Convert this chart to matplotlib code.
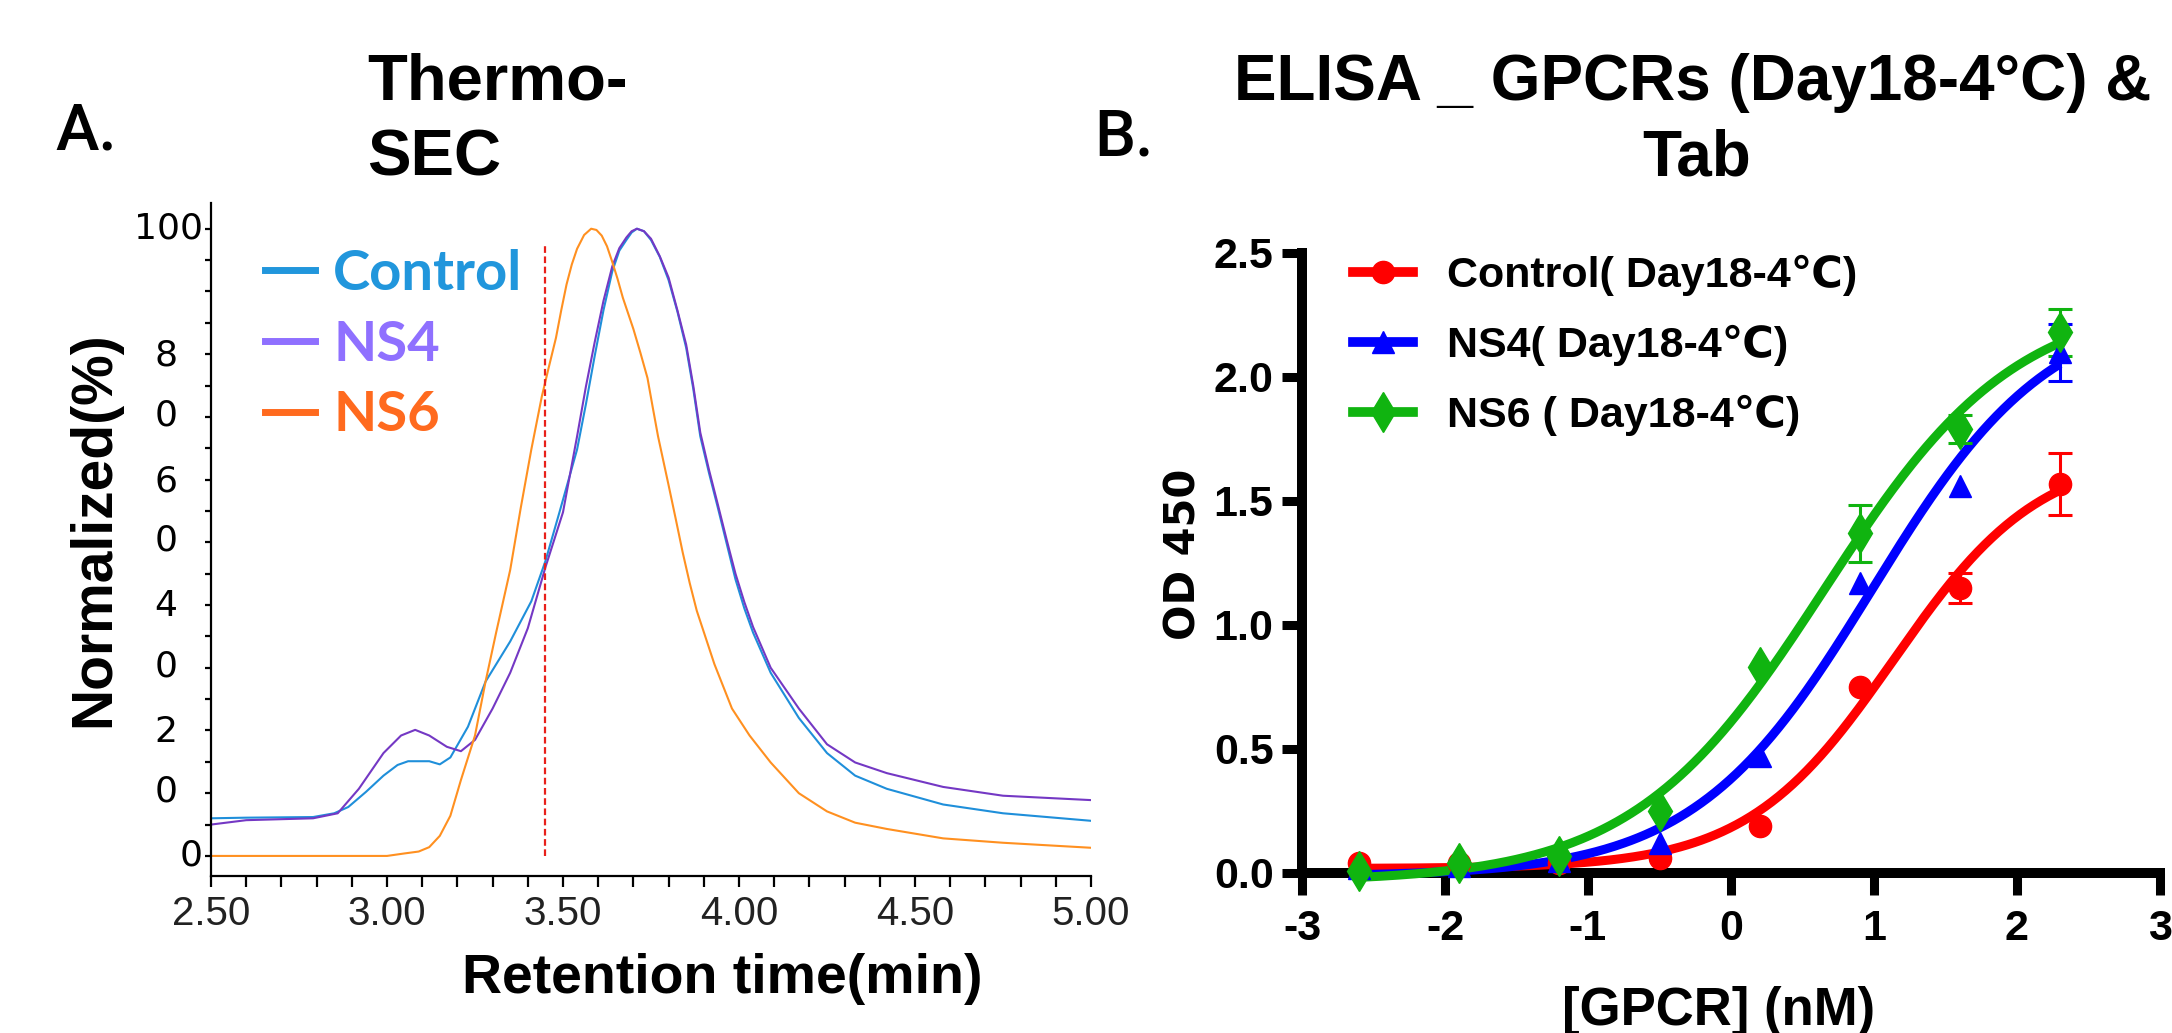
import numpy as np
import matplotlib
matplotlib.use("Agg")
import matplotlib.pyplot as plt
from matplotlib.transforms import blended_transform_factory

# ---------------- data : Thermo-SEC ----------------
control_t = [2.50, 2.60, 2.79, 2.85, 2.89, 2.94, 2.99, 3.03, 3.06, 3.12, 3.15, 3.18, 3.23, 3.28,
             3.35, 3.41, 3.45, 3.49, 3.54, 3.565, 3.59, 3.615, 3.64, 3.66, 3.68, 3.695, 3.71,
             3.73, 3.75, 3.775, 3.80, 3.825, 3.85, 3.87, 3.89, 3.915, 3.94, 3.965, 3.99, 4.015,
             4.04, 4.09, 4.17, 4.25, 4.33, 4.42, 4.58, 4.75, 5.00]
control_y = [6.0, 6.1, 6.2, 6.8, 7.8, 10.2, 12.8, 14.5, 15.1, 15.1, 14.6, 15.7, 20.6, 27.8,
             34.2, 40.6, 47.0, 54.8, 64.8, 72.0, 79.7, 87.0, 93.2, 96.5, 98.2, 99.4, 100.0,
             99.6, 98.2, 95.5, 91.8, 86.8, 81.0, 74.5, 66.9, 61.0, 55.5, 49.8, 44.1, 39.5,
             35.6, 29.2, 22.0, 16.4, 12.8, 10.7, 8.2, 6.8, 5.6]
ns4_t = [2.50, 2.60, 2.79, 2.86, 2.92, 2.99, 3.04, 3.08, 3.12, 3.17, 3.21, 3.25, 3.30, 3.35,
         3.40, 3.45, 3.50, 3.54, 3.565, 3.59, 3.615, 3.64, 3.66, 3.68, 3.695, 3.71, 3.73, 3.75,
         3.775, 3.80, 3.825, 3.85, 3.87, 3.89, 3.915, 3.94, 3.965, 3.99, 4.015, 4.04, 4.09,
         4.17, 4.25, 4.33, 4.42, 4.58, 4.75, 5.00]
ns4_y = [5.0, 5.7, 6.0, 6.8, 10.7, 16.4, 19.2, 20.1, 19.2, 17.4, 16.7, 18.5, 23.5, 29.2,
         36.3, 46.0, 54.8, 66.9, 74.8, 81.9, 88.5, 94.0, 96.9, 98.6, 99.6, 100.0, 99.6, 98.4,
         95.6, 92.2, 87.0, 81.5, 75.0, 67.5, 61.5, 56.0, 50.4, 45.0, 40.5, 36.5, 30.0,
         23.5, 17.8, 14.9, 13.2, 11.0, 9.6, 8.9]
ns6_t = [2.50, 3.00, 3.05, 3.09, 3.12, 3.15, 3.18, 3.21, 3.25, 3.28, 3.31, 3.35, 3.38, 3.41,
         3.44, 3.46, 3.48, 3.495, 3.51, 3.525, 3.54, 3.56, 3.58, 3.595, 3.61, 3.625, 3.64,
         3.655, 3.67, 3.70, 3.72, 3.74, 3.755, 3.77, 3.785, 3.80, 3.82, 3.84, 3.86, 3.88,
         3.93, 3.98, 4.03, 4.09, 4.17, 4.25, 4.33, 4.42, 4.58, 4.75, 5.00]
ns6_y = [0.0, 0.0, 0.4, 0.7, 1.4, 3.2, 6.4, 12.1, 19.2, 27.8, 35.6, 45.6, 55.5, 64.8,
         73.3, 78.0, 82.6, 87.0, 91.1, 94.3, 96.8, 99.0, 100.0, 99.8, 98.9, 97.2, 94.7,
         92.0, 89.0, 84.0, 80.2, 76.2, 71.5, 66.9, 63.0, 59.1, 53.8, 48.4, 43.5, 39.1,
         30.6, 23.5, 19.2, 14.9, 10.0, 7.1, 5.3, 4.3, 2.8, 2.1, 1.3]
sec_labels = ["Control", "NS4", "NS6"]
marker_time = 3.45
marker_top = 97.5
sec_yticks = [0, 20, 40, 60, 80, 100]
sec_yticklabels = ["0", "2\n0", "4\n0", "6\n0", "8\n0", "100"]
sec_xticks = [2.5, 3.0, 3.5, 4.0, 4.5, 5.0]
sec_xticklabels = ["2.50", "3.00", "3.50", "4.00", "4.50", "5.00"]

# ---------------- data : ELISA ----------------
log_conc = [-2.6, -1.9, -1.2, -0.5, 0.2, 0.9, 1.6, 2.3]
control_od = [0.04, 0.04, 0.04, 0.06, 0.19, 0.75, 1.15, 1.57]
ns4_od = [0.02, 0.03, 0.05, 0.12, 0.47, 1.17, 1.56, 2.10]
ns6_od = [0.01, 0.04, 0.07, 0.25, 0.83, 1.37, 1.79, 2.18]
control_sd = [0, 0, 0, 0, 0, 0, 0.06, 0.125]
ns4_sd = [0, 0, 0, 0, 0, 0, 0, 0.115]
ns6_sd = [0, 0, 0, 0, 0, 0.115, 0.055, 0.095]
elisa_labels = ["Control( Day18-4℃)", "NS4( Day18-4℃)", "NS6 ( Day18-4℃)"]

# ---------------- helpers ----------------
W, H = 2172, 1033
fig = plt.figure(figsize=(W / 100, H / 100), dpi=100)


def fx(px):
    return px / W


def fy(py):
    return 1 - py / H


NARROW = ["Liberation Sans Narrow", "Liberation Sans", "DejaVu Sans"]
BOLD = ["Liberation Sans", "DejaVu Sans"]


def four_pl(x, p):
    b, t, c, h = p
    return b + (t - b) / (1 + 10 ** ((c - x) * h))


def fit_4pl(x, y):
    x = np.asarray(x, float)
    y = np.asarray(y, float)
    p = np.array([y.min(), y.max() * 1.1, np.median(x), 1.0])
    lam = 1e-2
    for _ in range(500):
        r = y - four_pl(x, p)
        J = np.zeros((len(x), 4))
        for k in range(4):
            dp = np.zeros(4)
            dp[k] = 1e-6 * max(1.0, abs(p[k]))
            J[:, k] = (four_pl(x, p + dp) - four_pl(x, p)) / dp[k]
        A = J.T @ J
        g = J.T @ r
        step = np.linalg.solve(A + lam * np.diag(np.diag(A) + 1e-9), g)
        pn = p + step
        if np.sum((y - four_pl(x, pn)) ** 2) < np.sum(r ** 2):
            p = pn
            lam *= 0.5
        else:
            lam *= 4
    return p


# ---------------- panel A ----------------
axA = fig.add_axes([fx(211), fy(876), fx(1091) - fx(211), fy(203) - fy(876)])
axA.set_xlim(2.5, 5.0)
axA.set_ylim(-3.2, 104.1)
line_cols = ["#1f8fda", "#7438c4", "#ff9020"]
text_cols = ["#2196dc", "#8f70ff", "#ff6a1e"]
for t, y, c, lab in zip([control_t, ns4_t, ns6_t], [control_y, ns4_y, ns6_y], line_cols, sec_labels):
    axA.plot(t, y, color=c, lw=1.5, label=lab)
axA.plot([marker_time, marker_time], [0, marker_top], color="#e8201a", lw=1.6,
         linestyle=(0, (3, 1.6)))
for s in ["top", "right"]:
    axA.spines[s].set_visible(False)
for s in ["left", "bottom"]:
    axA.spines[s].set_linewidth(1.6)
axA.set_xticks(sec_xticks)
axA.set_xticklabels(sec_xticklabels, family=["Liberation Sans Narrow", "Liberation Sans"],
                    fontsize=29, color="#222222")
axA.set_xticks(np.arange(2.5, 5.0001, 0.1), minor=True)
axA.tick_params(axis="x", which="both", length=8, width=1.6, pad=6, direction="out")
axA.set_yticks(np.arange(0, 101, 5))
axA.set_yticklabels([])
axA.tick_params(axis="y", which="both", length=4, width=1.6, direction="out")
trA = blended_transform_factory(axA.transAxes, axA.transData)
for val, lab in zip(sec_yticks, sec_yticklabels):
    if "\n" in lab:
        axA.annotate(lab, xy=(-0.051, val), xycoords=trA, xytext=(0, -22.5),
                     textcoords="offset points", ha="center", va="center",
                     fontsize=26, family="DejaVu Sans", linespacing=1.95)
    else:
        axA.text(-0.009, val, lab, transform=trA, ha="right", va="center",
                 fontsize=26, family="DejaVu Sans")
legA = axA.legend(loc="upper left", bbox_to_anchor=(0.061, 0.932), frameon=False,
                  handlelength=0.9, handletextpad=0.32, labelspacing=0.37,
                  borderpad=0, borderaxespad=0,
                  prop={"family": ["Lato", "Roboto", "DejaVu Sans"], "weight": "bold", "size": 40.5})
for h, c in zip(legA.get_lines(), text_cols):
    h.set_linewidth(5)
    h.set_color(c)
for t, c in zip(legA.get_texts(), text_cols):
    t.set_color(c)

fig.text(fx(55), fy(131), "A.", fontsize=47, family=["Roboto", "DejaVu Sans"], weight="medium",
         ha="left", va="center")
fig.text(fx(367), fy(83), "Thermo-", fontsize=47, family=BOLD, weight="bold",
         ha="left", va="center")
fig.text(fx(367), fy(159), "SEC", fontsize=47, family=BOLD, weight="bold",
         ha="left", va="center")
fig.text(fx(94), fy(529), "Normalized(%)", fontsize=41, family=BOLD, weight="bold",
         rotation=90, ha="center", va="center")
fig.text(fx(722), fy(979), "Retention time(min)", fontsize=40, family=BOLD, weight="bold",
         ha="center", va="center")

# ---------------- panel B ----------------
axB = fig.add_axes([fx(1302), fy(873), fx(2160) - fx(1302), fy(253) - fy(873)])
axB.set_xlim(-3, 3)
axB.set_ylim(0, 2.5)
cols = ["#ff0000", "#0000ff", "#10b410"]
marks = ["o", "^", "d"]
msz = [16, 16, 20]
xx = np.linspace(min(log_conc), max(log_conc), 300)
for y, sd, c, m, ms, lab in zip([control_od, ns4_od, ns6_od], [control_sd, ns4_sd, ns6_sd],
                                cols, marks, msz, elisa_labels):
    p = fit_4pl(log_conc, y)
    axB.plot(xx, four_pl(xx, p), color=c, lw=6.5, solid_capstyle="butt", clip_on=False, zorder=3)
    xs = [a for a, s in zip(log_conc, sd) if s > 0]
    ys = [b for b, s in zip(y, sd) if s > 0]
    ss = [s for s in sd if s > 0]
    axB.errorbar(xs, ys, yerr=ss, fmt="none", ecolor=c, elinewidth=2.2, capsize=8.5,
                 capthick=2.2, clip_on=False, zorder=4)
    axB.plot(log_conc, y, linestyle="none", marker=m, color=c, markersize=ms,
             clip_on=False, zorder=5)
    axB.plot([], [], color=c, lw=7, marker=m, markersize=ms, label=lab)
for s in ["top", "right"]:
    axB.spines[s].set_visible(False)
for s in ["left", "bottom"]:
    axB.spines[s].set_linewidth(7.2)
    axB.spines[s].set_zorder(2)
axB.set_xticks(range(-3, 4))
axB.set_xticklabels([str(v) for v in range(-3, 4)], family=NARROW, weight="bold", fontsize=31)
axB.set_yticks([0, 0.5, 1.0, 1.5, 2.0, 2.5])
axB.set_yticklabels(["0.0", "0.5", "1.0", "1.5", "2.0", "2.5"], family=NARROW, weight="bold",
                    fontsize=31)
axB.tick_params(axis="x", length=16, width=6.5, pad=10, direction="out")
axB.tick_params(axis="y", length=14.5, width=6.5, pad=6, direction="out")
legB = axB.legend(loc="upper left", bbox_to_anchor=(0.059, 0.9975), frameon=False,
                  handlelength=1.4, handletextpad=0.8, labelspacing=0.67, numpoints=1,
                  borderpad=0, borderaxespad=0,
                  prop={"family": NARROW, "weight": "bold", "size": 31})

fig.text(fx(1094), fy(138), "B.", fontsize=47, family=["Roboto", "DejaVu Sans"], weight="medium",
         ha="left", va="center")
fig.text(fx(1693), fy(83), "ELISA _ GPCRs (Day18-4°C) &", fontsize=46, family=BOLD,
         weight="bold", ha="center", va="center")
fig.text(fx(1697), fy(159), "Tab", fontsize=46, family=BOLD, weight="bold",
         ha="center", va="center")
fig.text(fx(1184), fy(554), "OD 450", fontsize=30, family="DejaVu Sans", weight="bold",
         rotation=90, ha="center", va="center")
fig.text(fx(1719), fy(1011), "[GPCR] (nM)", fontsize=38, family=NARROW, weight="bold",
         ha="center", va="center")

fig.savefig("out.png", dpi=100)
